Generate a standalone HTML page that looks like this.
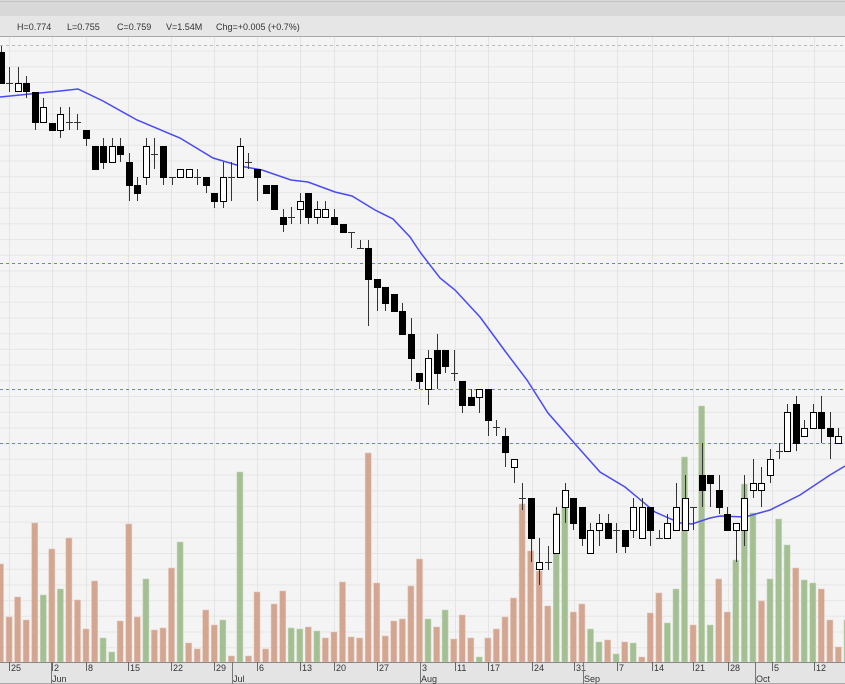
<!DOCTYPE html>
<html><head><meta charset="utf-8"><style>
html,body{margin:0;padding:0;background:#f4f4f4;}
svg{display:block;font-family:"Liberation Sans",sans-serif;}
</style></head><body>
<svg id="c" width="845" height="684" viewBox="0 0 845 684" xmlns="http://www.w3.org/2000/svg">
<rect x="0" y="0" width="845" height="684" fill="#f4f4f4"/>
<g id="grid"></g>
<g id="vol"></g>
<g id="cand"></g>
<g id="ax"></g>
</svg>
<script>
var NS="http://www.w3.org/2000/svg";
function el(p,t,a,txt){var e=document.createElementNS(NS,t);for(var k in a)e.setAttribute(k,a[k]);if(txt!=null)e.textContent=txt;document.getElementById(p).appendChild(e);return e;}
function X(i){return 0.5+8.55*i;}
// grid
for(var y=459.3-15.7*27;y<662;y+=15.7){if(y>37)el('grid','line',{x1:0,x2:845,y1:y.toFixed(1),y2:y.toFixed(1),stroke:'#e6e6e6','stroke-width':1});}
var gx=[9,52,86,128,171,214,257,300,334,377,420,455,488,532,574,617,652,693,728,772,814];
var lab=['25','2','8','15','22','29','6','13','20','27','3','11','17','24','31','7','14','21','28','5','12'];
gx.forEach(function(x){el('grid','line',{x1:x+.5,x2:x+.5,y1:37,y2:662,stroke:'#e4e4e4','stroke-width':1});});
el('grid','line',{x1:0,x2:845,y1:45.5,y2:45.5,stroke:'#bbb','stroke-dasharray':'3,3'});
el('grid','line',{x1:0,x2:845,y1:263.5,y2:263.5,stroke:'#7777ee','stroke-dasharray':'3,3'});
el('grid','line',{x1:0,x2:845,y1:389.5,y2:389.5,stroke:'#7777ee','stroke-dasharray':'3,3'});
el('grid','line',{x1:0,x2:845,y1:443.5,y2:443.5,stroke:'#7777ee','stroke-dasharray':'3,3'});
// volume
var V=[[564,0],[617,0],[597,0],[620,0],[523,0],[595,1],[549,0],[589,1],[538,0],[600,0],[629,0],[581,0],[638,1],[652,1],[621,0],[524,0],[617,0],[579,1],[630,0],[628,0],[568,0],[542,1],[643,0],[649,0],[610,0],[625,0],[620,1],[656,0],[472,1],[656,0],[592,0],[649,0],[604,0],[591,0],[628,1],[629,1],[627,0],[631,1],[638,0],[632,0],[582,0],[637,0],[638,0],[453,0],[583,0],[636,0],[621,0],[619,0],[586,0],[559,0],[619,1],[627,0],[610,1],[639,0],[615,0],[638,0],[657,1],[638,0],[629,0],[617,0],[598,0],[504,0],[551,0],[571,0],[606,0],[513,1],[505,1],[612,0],[604,0],[629,1],[642,1],[640,0],[654,1],[642,0],[643,1],[657,0],[613,0],[593,0],[623,1],[589,1],[457,1],[625,0],[406,1],[625,1],[579,0],[612,0],[560,1],[484,1],[513,1],[601,0],[579,1],[519,1],[545,1],[568,0],[580,1],[583,1],[589,0],[620,0],[647,0],[620,1]];
V.forEach(function(v,i){var x=X(i);el('vol','rect',{x:(x-3).toFixed(1),y:v[0],width:6,height:662-v[0],fill:v[1]?'#a3bf93':'#d3a691',stroke:v[1]?'#c4d8b8':'#e6c4b6','stroke-width':0.6});});
// MA
var ma=[[0,97],[60,91],[78,89],[103,101],[137,120],[180,138],[213,158],[240,166],[262,170],[291,180],[308,182],[335,192],[352,196],[375,210],[393,219],[410,237],[420,252],[440,278],[455,290],[480,317],[505,351],[527,380],[548,413],[576,445],[600,472],[625,487],[655,512],[680,523],[692,524],[710,518],[720,516],[745,517],[770,510],[800,495],[830,475],[845,466]];
el('cand','polyline',{points:ma.map(function(p){return p.join(',')}).join(' '),fill:'none',stroke:'#4a4af5','stroke-width':1.5});
// candles [o,c,h,l] pixel
var C=[[52,83,46,84],[83,83,67,92],[91,83,67,91],[83,91,76,98],[92,122,92,130],[122,107,98,122],[123,130,123,130],[130,114,107,138],[122,122,107,130],[122,122,114,130],[130,138,130,146],[146,169,146,169],[146,162,138,169],[162,146,138,162],[146,154,138,162],[162,185,153,201],[185,193,177,201],[177,146,138,185],[154,154,138,169],[146,177,146,185],[177,177,177,185],[177,169,169,177],[177,169,169,177],[177,177,169,185],[177,185,177,193],[193,201,193,208],[201,177,162,208],[177,177,162,201],[177,146,138,177],[162,162,153,169],[169,177,169,201],[185,193,185,193],[185,209,185,209],[217,224,209,232],[217,217,207,224],[209,201,193,224],[193,217,193,224],[217,209,201,224],[217,209,201,217],[217,224,209,224],[224,232,224,232],[232,232,232,248],[248,248,240,248],[248,279,240,326],[279,287,279,311],[287,303,287,311],[294,311,294,311],[311,334,303,334],[334,358,318,381],[373,381,373,389],[389,358,350,405],[350,373,334,389],[350,366,350,373],[373,373,350,381],[381,405,381,413],[397,405,389,405],[397,389,389,413],[389,420,389,436],[427,427,420,436],[436,452,428,467],[467,459,459,483],[498,498,483,510],[498,538,498,562],[569,562,538,585],[562,562,546,570],[553,514,507,553],[507,490,483,523],[498,523,498,530],[507,538,507,546],[553,530,523,553],[530,523,514,546],[523,538,514,538],[530,530,523,553],[530,546,530,553],[530,507,498,538],[538,507,498,538],[507,530,507,546],[538,538,530,538],[538,523,514,538],[530,507,483,530],[530,498,475,530],[507,507,507,530],[475,490,443,507],[475,483,475,507],[490,507,475,514],[514,530,507,530],[530,523,523,562],[530,498,475,546],[490,483,459,498],[490,483,467,507],[475,459,449,483],[451,451,443,459],[451,412,404,451],[404,443,396,451],[436,428,420,436],[428,412,404,428],[412,428,396,443],[428,436,412,459],[443,436,428,443]];
C.forEach(function(c,i){var x=Math.round(X(i))+.5;var o=c[0],cl=c[1],h=c[2],l=c[3];
el('cand','line',{x1:x,x2:x,y1:h,y2:l,stroke:'#333','stroke-width':1});
if(o==cl){el('cand','line',{x1:x-3.5,x2:x+3.5,y1:o+.5,y2:o+.5,stroke:'#333','stroke-width':1});}
else{var t=Math.min(o,cl),b=Math.max(o,cl);el('cand','rect',{x:x-3,y:t+.5,width:6,height:b-t,fill:cl>o?'#000':'#fff',stroke:'#000','stroke-width':1});}
});
// top bars
el('ax','rect',{x:0,y:0,width:845,height:16,fill:'#d8d8d8'});
el('ax','line',{x1:0,x2:845,y1:1.5,y2:1.5,stroke:'#c4c4c4'});
el('ax','rect',{x:0,y:16,width:845,height:20,fill:'#e6e6e6'});
el('ax','line',{x1:0,x2:845,y1:36.5,y2:36.5,stroke:'#a8a8a8'});
[['H=0.774',17],['L=0.755',67],['C=0.759',117],['V=1.54M',166],['Chg=+0.005 (+0.7%)',216]].forEach(function(t){el('ax','text',{x:t[1],y:30,'font-size':9,fill:'#333'},t[0]);});
// bottom axis
el('ax','rect',{x:0,y:662,width:845,height:22,fill:'#e4e4e4'});
el('ax','line',{x1:0,x2:845,y1:662.5,y2:662.5,stroke:'#888'});
el('ax','line',{x1:0,x2:845,y1:683.5,y2:683.5,stroke:'#aaa'});
gx.forEach(function(x,k){el('ax','line',{x1:x+.5,x2:x+.5,y1:662,y2:671,stroke:'#666'});el('ax','text',{x:x+2,y:671,'font-size':9,fill:'#333'},lab[k]);});
[['Jun',51],['Jul',232],['Aug',420],['Sep',583],['Oct',755]].forEach(function(m){el('ax','line',{x1:m[1]+.5,x2:m[1]+.5,y1:662,y2:684,stroke:'#777'});el('ax','text',{x:m[1]+1,y:682,'font-size':9,fill:'#333'},m[0]);});
</script>
</body></html>
